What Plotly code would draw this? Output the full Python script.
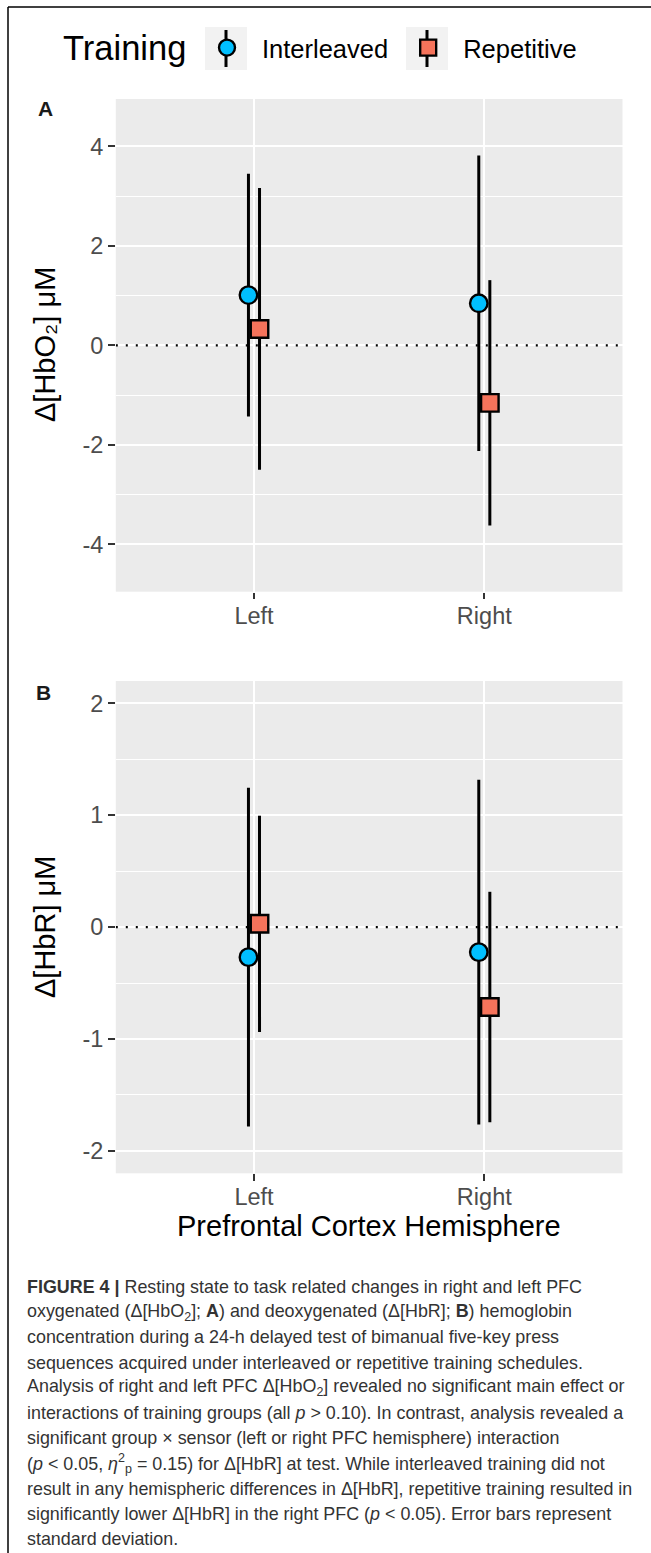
import plotly.graph_objects as go

# ---------------- data ----------------
categories = ["Left", "Right"]
groups = ["Interleaved", "Repetitive"]

hbo2_interleaved_mean = [1.01, 0.845]
hbo2_interleaved_sd = [2.44, 2.97]
hbo2_repetitive_mean = [0.33, -1.155]
hbo2_repetitive_sd = [2.83, 2.465]

hbr_interleaved_mean = [-0.268, -0.223]
hbr_interleaved_sd = [1.513, 1.54]
hbr_repetitive_mean = [0.030, -0.714]
hbr_repetitive_sd = [0.966, 1.03]

hbo2_ticks = [-4, -2, 0, 2, 4]
hbo2_minor = [-3, -1, 1, 3]
hbr_ticks = [-2, -1, 0, 1, 2]
hbr_minor = [-1.5, -0.5, 0.5, 1.5]

x_range = [0.4, 2.6]
hbo2_range = [-4.95, 4.95]
hbr_range = [-2.2, 2.2]
reference_level = 0

# ---------------- layout helpers ----------------
W, H = 651, 1553
FONT = "Liberation Sans, Arial, sans-serif"


def px_x(x):
    return x / W


def px_y(y):
    return 1 - y / H


colors = {"Interleaved": "#00BFFF", "Repetitive": "#F5735B"}
symbols = {"Interleaved": "circle", "Repetitive": "square"}
dodge = {"Interleaved": -0.024, "Repetitive": 0.024}

panels = [
    ("x", "y", {"Interleaved": (hbo2_interleaved_mean, hbo2_interleaved_sd),
                "Repetitive": (hbo2_repetitive_mean, hbo2_repetitive_sd)}, True),
    ("x2", "y2", {"Interleaved": (hbr_interleaved_mean, hbr_interleaved_sd),
                  "Repetitive": (hbr_repetitive_mean, hbr_repetitive_sd)}, False),
]

fig = go.Figure()
for xa, ya, data, show in panels:
    # dotted reference line at zero, drawn above the grid but beneath the points
    fig.add_trace(go.Scatter(
        x=x_range, y=[reference_level, reference_level], xaxis=xa, yaxis=ya,
        mode="lines", line=dict(color="black", width=2.2, dash="2px,8px"),
        showlegend=False, hoverinfo="skip", cliponaxis=True,
    ))
    for g in groups:
        means, sds = data[g]
        xs = [i + 1 + dodge[g] for i in range(len(categories))]
        fig.add_trace(go.Scatter(
            x=xs, y=means, xaxis=xa, yaxis=ya, mode="markers", name=g,
            legendgroup=g, showlegend=show,
            marker=dict(symbol=symbols[g], size=17.5, color=colors[g],
                        line=dict(color="black", width=2.4)),
            error_y=dict(type="data", array=sds, visible=True, color="black",
                         thickness=3, width=0),
            hovertext=[f"{c}: {m:.2f} ± {s:.2f}" for c, m, s in zip(categories, means, sds)],
            hoverinfo="text",
        ))

x_dom = [px_x(115.8), px_x(622.5)]
dom_a = [px_y(591.7), px_y(99)]
dom_b = [px_y(1173.3), px_y(681)]

tickfont = dict(family=FONT, size=23.5, color="#4D4D4D")
xaxis_common = dict(
    range=x_range, tickmode="array", tickvals=[1, 2], ticktext=categories,
    showgrid=True, gridcolor="white", gridwidth=2, zeroline=False, showline=False,
    ticks="outside", ticklen=6.7, tickwidth=1.6, tickcolor="#333333",
    tickfont=tickfont, domain=x_dom, ticklabelstandoff=-4,
)
yaxis_common = dict(
    tickmode="array", showgrid=True, gridcolor="white", gridwidth=2, zeroline=False,
    ticks="outside", ticklen=6.7, tickwidth=1.6, tickcolor="#333333", tickfont=tickfont,
)
fig.update_layout(
    xaxis=dict(**xaxis_common, anchor="y"),
    xaxis2=dict(**xaxis_common, anchor="y2"),
    yaxis=dict(
        **yaxis_common, range=hbo2_range, domain=dom_a, anchor="x",
        tickvals=hbo2_ticks, ticktext=[str(t) for t in hbo2_ticks],
        minor=dict(tickmode="array", tickvals=hbo2_minor, showgrid=True,
                   gridcolor="white", gridwidth=1),
    ),
    yaxis2=dict(
        **yaxis_common, range=hbr_range, domain=dom_b, anchor="x2",
        tickvals=hbr_ticks, ticktext=[str(t) for t in hbr_ticks],
        minor=dict(tickmode="array", tickvals=hbr_minor, showgrid=True,
                   gridcolor="white", gridwidth=1),
    ),
)

# figure frame (left and top rules)
fig.add_shape(type="line", xref="paper", yref="paper", x0=px_x(8), x1=px_x(8),
              y0=px_y(7), y1=0, line=dict(color="black", width=1.5), layer="above")
fig.add_shape(type="line", xref="paper", yref="paper", x0=px_x(8), x1=1,
              y0=px_y(7), y1=px_y(7), line=dict(color="black", width=1.5), layer="above")

# legend key backgrounds and bars (behind the legend symbols)
for cx in [226, 427]:
    fig.add_shape(type="rect", xref="paper", yref="paper",
                  x0=px_x(cx - 21), x1=px_x(cx + 21), y0=px_y(70), y1=px_y(27),
                  fillcolor="#F2F2F2", line=dict(width=0), layer="above")
    fig.add_shape(type="line", xref="paper", yref="paper",
                  x0=px_x(cx), x1=px_x(cx), y0=px_y(67), y1=px_y(30),
                  line=dict(color="black", width=3), layer="above")

fig.update_layout(
    legend=dict(
        orientation="h", x=px_x(192), xanchor="left", y=px_y(48), yanchor="middle",
        font=dict(family=FONT, size=25.5, color="black"), itemwidth=60,
        bgcolor="rgba(0,0,0,0)", traceorder="normal",
    )
)

annotations = []
# legend title
annotations.append(dict(text="Training", x=px_x(124.5), y=px_y(48), xref="paper", yref="paper",
                        xanchor="center", yanchor="middle", showarrow=False,
                        font=dict(family=FONT, size=34.5, color="black")))
# panel tags
annotations.append(dict(text="<b>A</b>", x=px_x(45), y=px_y(109), xref="paper", yref="paper",
                        xanchor="center", yanchor="middle", showarrow=False,
                        font=dict(family=FONT, size=21, color="#1A1A1A")))
annotations.append(dict(text="<b>B</b>", x=px_x(43), y=px_y(693), xref="paper", yref="paper",
                        xanchor="center", yanchor="middle", showarrow=False,
                        font=dict(family=FONT, size=21, color="#1A1A1A")))
# axis titles
annotations.append(dict(text="Δ[HbO₂] μM", x=px_x(45), y=px_y(345), xref="paper", yref="paper",
                        xanchor="center", yanchor="middle", textangle=-90, showarrow=False,
                        font=dict(family=FONT, size=29, color="black")))
annotations.append(dict(text="Δ[HbR] μM", x=px_x(45), y=px_y(927), xref="paper", yref="paper",
                        xanchor="center", yanchor="middle", textangle=-90, showarrow=False,
                        font=dict(family=FONT, size=29, color="black")))
annotations.append(dict(text="Prefrontal Cortex Hemisphere", x=px_x(369), y=px_y(1226),
                        xref="paper", yref="paper", xanchor="center", yanchor="middle",
                        showarrow=False, font=dict(family=FONT, size=29, color="black")))

caption_lines = [
    "<b>FIGURE 4 |</b> Resting state to task related changes in right and left PFC",
    "oxygenated (Δ[HbO<sub>2</sub>]; <b>A</b>) and deoxygenated (Δ[HbR]; <b>B</b>) hemoglobin",
    "concentration during a 24-h delayed test of bimanual five-key press",
    "sequences acquired under interleaved or repetitive training schedules.",
    "Analysis of right and left PFC Δ[HbO<sub>2</sub>] revealed no significant main effect or",
    "interactions of training groups (all <i>p</i> &gt; 0.10). In contrast, analysis revealed a",
    "significant group × sensor (left or right PFC hemisphere) interaction",
    "(<i>p</i> &lt; 0.05, <i>η</i><sup>2</sup><sub>p</sub> = 0.15) for Δ[HbR] at test. While interleaved training did not",
    "result in any hemispheric differences in Δ[HbR], repetitive training resulted in",
    "significantly lower Δ[HbR] in the right PFC (<i>p</i> &lt; 0.05). Error bars represent",
    "standard deviation.",
]
for i, line in enumerate(caption_lines):
    annotations.append(dict(text=line, x=px_x(25), y=px_y(1287 + i * 25.2), xref="paper",
                            yref="paper", xanchor="left", yanchor="middle", showarrow=False,
                            font=dict(family=FONT, size=17.9, color="#333333")))

fig.update_layout(
    annotations=annotations,
    width=W, height=H, autosize=False,
    margin=dict(l=0, r=0, t=0, b=0),
    plot_bgcolor="#EBEBEB", paper_bgcolor="white",
    font=dict(family=FONT),
    hovermode="closest",
)

fig.write_html("out.html", config={"displayModeBar": False},
               post_script="document.body.style.margin='0px';")
